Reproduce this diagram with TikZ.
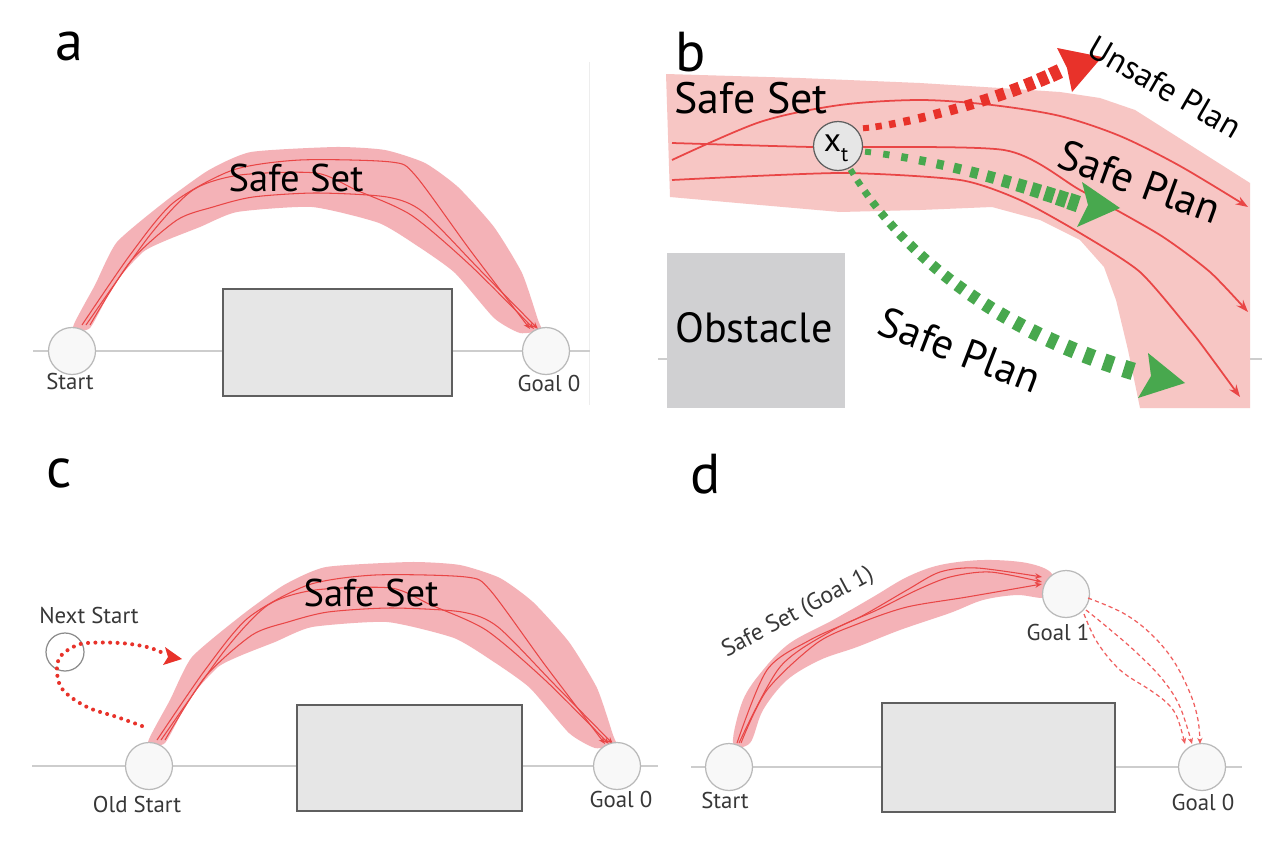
\documentclass[tikz,border=0pt]{standalone}
\usepackage{fontspec}
\setmainfont{PT Sans}
\usetikzlibrary{arrows.meta}
\definecolor{bandA}{RGB}{244,178,183}
\definecolor{bandB}{RGB}{247,198,196}
\definecolor{trajred}{RGB}{233,70,70}
\definecolor{dashred}{RGB}{232,50,42}
\definecolor{thinred}{RGB}{240,95,95}
\definecolor{planGreen}{RGB}{72,168,78}
\definecolor{circEdge}{RGB}{185,185,185}
\definecolor{circFill}{RGB}{248,248,248}
\definecolor{rectFill}{RGB}{230,230,230}
\definecolor{rectEdge}{RGB}{95,95,95}
\definecolor{obsFill}{RGB}{208,208,210}
\definecolor{groundGray}{RGB}{205,205,205}
\definecolor{labGray}{RGB}{55,55,55}
\tikzset{
  traj/.style={draw=trajred, line width=0.6pt, -{Stealth[length=4pt,width=3pt]}},
  trajb/.style={draw=trajred, line width=1pt, -{Stealth[length=7pt,width=5pt]}},
  goalcirc/.style={circle, draw=circEdge, fill=circFill, line width=0.7pt, minimum size=0.94cm, inner sep=0pt},
  obstbox/.style={draw=rectEdge, fill=rectFill, line width=1pt},
  groundline/.style={draw=groundGray, line width=0.7pt},
  smalllab/.style={font=\fontsize{13}{15}\selectfont, text=labGray, inner sep=0pt, anchor=base},
  panellab/.style={font=\fontsize{32}{36}\selectfont, inner sep=0pt, anchor=base},
  bigtext/.style={font=\fontsize{#1}{#1}\selectfont, inner sep=0pt},
  dotarrow/.style={draw=dashred, line width=2.3pt, line cap=round, dash pattern=on 0pt off 4.2pt},
  thindash/.style={draw=thinred, line width=0.7pt, dash pattern=on 2.4pt off 1.8pt, -{Stealth[length=3.5pt,width=3pt]}}
}
% tapered dashed plan: colour, start, control 1, control 2, end, count, width0, width1 (px)
\newcommand\taperline[8]{%
  \foreach \tapI in {0,...,#6} {%
    \pgfmathsetmacro\tapP{0.97*\tapI/#6}%
    \pgfmathsetmacro\tapH{(#7+(#8-#7)*\tapP)*0.02}%
    \pgfmathsetmacro\tapL{(6+4*\tapP)*0.02}%
    \path #2 .. controls #3 and #4 .. #5 node[pos=\tapP, sloped, fill=#1, inner sep=0pt, minimum width=\tapL cm, minimum height=\tapH cm]{};
  }}
\newcommand\archdrawing{%
  \fill[bandA] plot[smooth cycle, tension=0.35] coordinates {(73,327) (95,285) (117,242) (167,200) (209,170) (251,152) (336,147) (385,150) (425,163) (458,187) (494,227) (522,273) (538,320) (541,330) (520,333) (494,318) (455,273) (419,247) (379,223) (312,207) (237,212) (200,227) (167,240) (143,252) (115,283) (90,328)};
  \draw[traj] plot[smooth, tension=0.45] coordinates {(82,325) (130,255) (173,203) (233,170) (300,160) (391,162) (415,175) (470,250) (530,329)};
  \draw[traj] plot[smooth, tension=0.45] coordinates {(86,325) (150,235) (193,190) (240,175) (316,173) (356,190) (411,215) (470,265) (534,329)};
  \draw[traj] plot[smooth, tension=0.45] coordinates {(90,325) (130,262) (177,220) (213,207) (253,197) (316,193) (387,197) (423,212) (480,270) (538,329)};
}
\begin{document}
\begin{tikzpicture}[x=0.02cm, y=-0.02cm]
\useasboundingbox (0,0) rectangle (1266,852);
\fill[white] (0,0) rectangle (1266,852);

% ---------------- panel a ----------------
\node[panellab] (la) at (69,60) {a};
\draw[draw=black!7, line width=0.5pt] (589,62) -- (589,405);
\draw[groundline] (33,351) -- (590,351);
\draw[obstbox] (223,289) rectangle (452,396);
\archdrawing
\node[goalcirc] (startA) at (72,351) {};
\node[goalcirc] (goalA) at (546,351) {};
\node[bigtext=22, anchor=base] (ssA) at (296,191) {Safe Set};
\node[smalllab] (startAl) at (70,389) {Start};
\node[smalllab] (goalAl) at (549,391) {Goal 0};

% ---------------- panel b ----------------
\node[panellab] (lb) at (691,71) {b};
\draw[groundline] (658,359) -- (667,359);
\draw[groundline] (1248,359) -- (1262,359);
\fill[bandB] (666,74) -- (800,78) -- (920,83) -- (1000,88) -- (1060,92) -- (1100,98) -- (1135,110) -- (1250,183) -- (1250,408) -- (1140,408) -- (1128,350) -- (1116,300) -- (1104,267) -- (1080,240) -- (1040,220) -- (992,207) -- (920,210) -- (840,212) -- (760,205) -- (670,197) -- cycle;
\fill[obsFill] (667,253) rectangle (845,408);
\node[bigtext=24] (obs) at (754,328) {Obstacle};
\draw[trajb] plot[smooth, tension=0.5] coordinates {(672,160) (760,122) (840,105) (920,100) (992,105) (1060,116) (1120,136) (1180,166) (1248,207)};
\draw[trajb] plot[smooth, tension=0.4] coordinates {(672,143) (812,147) (1004,150) (1080,190) (1160,235) (1210,272) (1248,312)};
\draw[trajb] plot[smooth, tension=0.4] coordinates {(672,180) (840,173) (960,180) (1020,200) (1080,233) (1140,272) (1190,330) (1207,352) (1240,397)};
\node[bigtext=25, anchor=base] (ssB) at (751,113) {Safe Set};
% plans
\taperline{dashred}{(866,128)}{(920,122)}{(1010,95)}{(1060,71)}{13}{6}{15}
\fill[dashred] (1057,48) -- (1102,57) -- (1072,92) -- (1067,68) -- cycle;
\taperline{planGreen}{(868,152)}{(950,162)}{(1030,188)}{(1078,204)}{13}{6}{17}
\fill[planGreen] (1082,182) -- (1120,208) -- (1077,227) -- (1088,205) -- cycle;
\taperline{planGreen}{(852,172)}{(900,250)}{(990,330)}{(1142,374)}{21}{6}{18}
\fill[planGreen] (1148,353) -- (1185,383) -- (1138,398) -- (1151,376) -- cycle;
\node[circle, draw=rectEdge, fill=rectFill, line width=0.7pt, minimum size=0.98cm, inner sep=0pt] (xt) at (838,146) {};
\node[bigtext=19, anchor=base] at (836,151) {x\raisebox{-0.6ex}{\fontsize{12}{12}\selectfont t}};
\node[bigtext=19, rotate=-30] (unsafe) at (1165,87) {Unsafe Plan};
\node[bigtext=24, rotate=-20] (safe1) at (1140,182) {Safe Plan};
\node[bigtext=24, rotate=-21] (safe2) at (960,350) {Safe Plan};

% ---------------- panel c ----------------
\node[panellab] (lc) at (59,487) {c};
\draw[groundline] (32,766) -- (658,766);
\draw[obstbox] (297,705) rectangle (522,811);
\begin{scope}[shift={(75,415)}]
\archdrawing
\end{scope}
\node[goalcirc] (startC) at (149,766) {};
\node[goalcirc] (goalC) at (617,766) {};
\node[circle, draw=black!45, line width=0.7pt, minimum size=0.76cm, inner sep=0pt] (nextC) at (65,652) {};
\coordinate (dotS) at (142,726);
\draw[dotarrow] plot[smooth, tension=0.6] coordinates {(dotS) (117,717) (87,707) (63,690) (57,672) (60,657) (73,647) (87,643) (120,643) (147,647) (163,653)};
\fill[dashred] (165,647) -- (182,659) -- (163,665) -- (168,657) -- cycle;
\node[bigtext=22, anchor=base] (ssC) at (371,606) {Safe Set};
\node[smalllab] (oldl) at (137,812) {Old Start};
\node[smalllab] (goalCl) at (621,807) {Goal 0};
\node[smalllab] (nextl) at (89,623) {Next Start};

% ---------------- panel d ----------------
\node[panellab] (ld) at (706,493) {d};
\draw[groundline] (691,767) -- (1242,767);
\draw[obstbox] (882,703) rectangle (1115,812);
\fill[bandA] plot[smooth cycle, tension=0.55] coordinates {(733,743) (743,700) (763,670) (790,643) (833,620) (873,597) (907,577) (940,565) (983,560) (1027,563) (1052,574) (1047,597) (1017,595) (983,600) (950,613) (900,630) (857,647) (820,660) (787,680) (763,710) (750,743)};
\draw[traj] plot[smooth, tension=0.5] coordinates {(737,743) (767,670) (810,640) (860,617) (907,590) (940,572) (977,568) (1042,577)};
\draw[traj] plot[smooth, tension=0.5] coordinates {(739,743) (780,667) (833,630) (877,610) (917,590) (950,577) (990,572) (1042,582)};
\draw[traj] plot[smooth, tension=0.5] coordinates {(741,743) (767,690) (817,643) (860,623) (907,607) (967,597) (1042,584)};
\node[goalcirc] (startD) at (729,767) {};
\node[goalcirc] (goalD0) at (1202,767) {};
\node[goalcirc] (goalD1) at (1066,594) {};
\draw[thindash] plot[smooth, tension=0.6] coordinates {(1088,598) (1123,613) (1150,633) (1173,660) (1190,693) (1198,720) (1200,744)};
\draw[thindash] plot[smooth, tension=0.6] coordinates {(1086,610) (1107,627) (1137,653) (1163,680) (1180,707) (1192,744)};
\draw[thindash] plot[smooth, tension=0.6] coordinates {(1084,614) (1097,642) (1120,670) (1150,690) (1167,703) (1177,717) (1185,744)};
\node[font=\fontsize{13.5}{15}\selectfont, text=labGray, inner sep=0pt, rotate=28] (ssD) at (798,613) {Safe Set (Goal 1)};
\node[smalllab] (startDl) at (725,808) {Start};
\node[smalllab] (goalD0l) at (1203,810) {Goal 0};
\node[smalllab] (goalD1l) at (1058,640) {Goal 1};
\end{tikzpicture}
\end{document}
